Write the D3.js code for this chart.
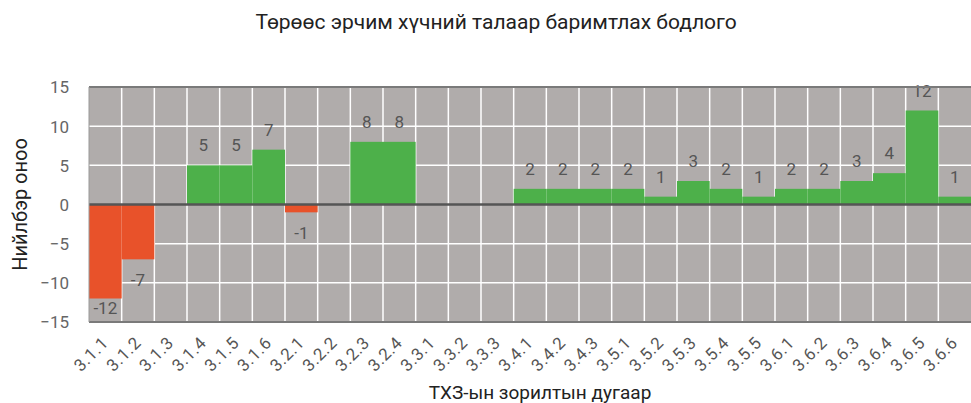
<!DOCTYPE html>
<html>
<head>
<meta charset="utf-8">
<script src="https://cdn.jsdelivr.net/npm/d3@7"></script>
<style>
  body { margin: 0; background: #fff; }
  text { font-family: Roboto, "Noto Sans", sans-serif; }
</style>
</head>
<body>
<div id="chart"></div>
<script>
const categories = ["3.1.1","3.1.2","3.1.3","3.1.4","3.1.5","3.1.6","3.2.1","3.2.2","3.2.3","3.2.4",
  "3.3.1","3.3.2","3.3.3","3.4.1","3.4.2","3.4.3","3.5.1","3.5.2","3.5.3","3.5.4","3.5.5",
  "3.6.1","3.6.2","3.6.3","3.6.4","3.6.5","3.6.6"];
const scores = [-12,-7,null,5,5,7,-1,null,8,8,null,null,null,2,2,2,2,1,3,2,1,2,2,3,4,12,1];
const yTicks = [-15,-10,-5,0,5,10,15];
const title = "Төрөөс эрчим хүчний талаар баримтлах бодлого";
const yTitle = "Нийлбэр оноо";
const xTitle = "ТХЗ-ын зорилтын дугаар";

const W = 971, H = 403;
const margin = { top: 87, right: 0, bottom: 81, left: 89 };
const width = W - margin.left - margin.right,
  height = H - margin.top - margin.bottom;

const svg = d3.select("#chart").append("svg")
  .attr("width", W).attr("height", H);

svg.append("text")
  .attr("x", 496).attr("y", 29)
  .attr("text-anchor", "middle")
  .style("font-size", "21px").style("fill", "#222")
  .text(title);

const g = svg.append("g").attr("transform", `translate(${margin.left},${margin.top})`);

const x = d3.scaleBand().domain(categories).range([0, width]).padding(0);
const y = d3.scaleLinear().domain([-15, 15]).range([height, 0]);

// plot background
g.append("rect").attr("width", width).attr("height", height).attr("fill", "#b0acab");

// grid
g.append("g").selectAll("line.v")
  .data(categories.slice(1))
  .join("line")
  .attr("x1", d => x(d)).attr("x2", d => x(d))
  .attr("y1", 0).attr("y2", height)
  .attr("stroke", "#fff").attr("stroke-width", 1.5);
g.append("g").selectAll("line.h")
  .data(yTicks.filter(t => t !== 0 && Math.abs(t) !== 15))
  .join("line")
  .attr("x1", 0).attr("x2", width)
  .attr("y1", d => y(d)).attr("y2", d => y(d))
  .attr("stroke", "#fff").attr("stroke-width", 1.5);

// bars
const data = categories.map((c, i) => ({ c, v: scores[i] })).filter(d => d.v !== null);
g.append("g").selectAll("rect")
  .data(data)
  .join("rect")
  .attr("x", d => x(d.c))
  .attr("width", x.bandwidth())
  .attr("y", d => y(Math.max(0, d.v)))
  .attr("height", d => Math.abs(y(d.v) - y(0)))
  .attr("fill", d => d.v < 0 ? "#e8522a" : "#4db04a");

// value labels
g.append("g").selectAll("text")
  .data(data)
  .join("text")
  .attr("x", d => x(d.c) + x.bandwidth() / 2)
  .attr("y", d => d.v >= 0 ? y(d.v) - 14 : Math.min(y(d.v) + 27, height - 8))
  .attr("text-anchor", "middle")
  .style("font-size", "17px").style("fill", "#555")
  .text(d => d.v);

// borders & zero line
g.append("line").attr("x1", 0).attr("x2", width).attr("y1", y(0)).attr("y2", y(0))
  .attr("stroke", "#555").attr("stroke-width", 2.5);
g.append("line").attr("x1", 0).attr("x2", width).attr("y1", 0).attr("y2", 0)
  .attr("stroke", "#7a7a7a").attr("stroke-width", 2);
g.append("line").attr("x1", 0).attr("x2", width).attr("y1", height).attr("y2", height)
  .attr("stroke", "#7a7a7a").attr("stroke-width", 2);
g.append("line").attr("x1", 0).attr("x2", 0).attr("y1", 0).attr("y2", height)
  .attr("stroke", "#999").attr("stroke-width", 1);

// y axis
const yAxis = g.append("g")
  .attr("transform", "translate(-17,0)")
  .call(d3.axisLeft(y).tickValues(yTicks).tickSize(0));
yAxis.select(".domain").remove();
yAxis.selectAll("text").style("font-size", "17px").style("fill", "#666").attr("dy", "0.35em");

// x axis labels, rotated -45
const xAxis = g.append("g")
  .attr("transform", `translate(0,${height})`)
  .call(d3.axisBottom(x).tickSize(0).tickFormat(""));
xAxis.select(".domain").remove();
xAxis.selectAll(".tick").append("text")
  .attr("text-anchor", "end")
  .attr("transform", "translate(4,22) rotate(-45)")
  .style("font-size", "17px").style("fill", "#555")
  .style("letter-spacing", "0.5px")
  .style("font-family", "Roboto, sans-serif")
  .text(d => d);

// axis titles
svg.append("text")
  .attr("transform", `translate(27,${margin.top + height / 2}) rotate(-90)`)
  .attr("text-anchor", "middle")
  .style("font-size", "20px").style("fill", "#222")
  .text(yTitle);
svg.append("text")
  .attr("x", 540).attr("y", 399)
  .attr("text-anchor", "middle")
  .style("font-size", "19px").style("fill", "#222")
  .text(xTitle);
</script>
</body>
</html>
